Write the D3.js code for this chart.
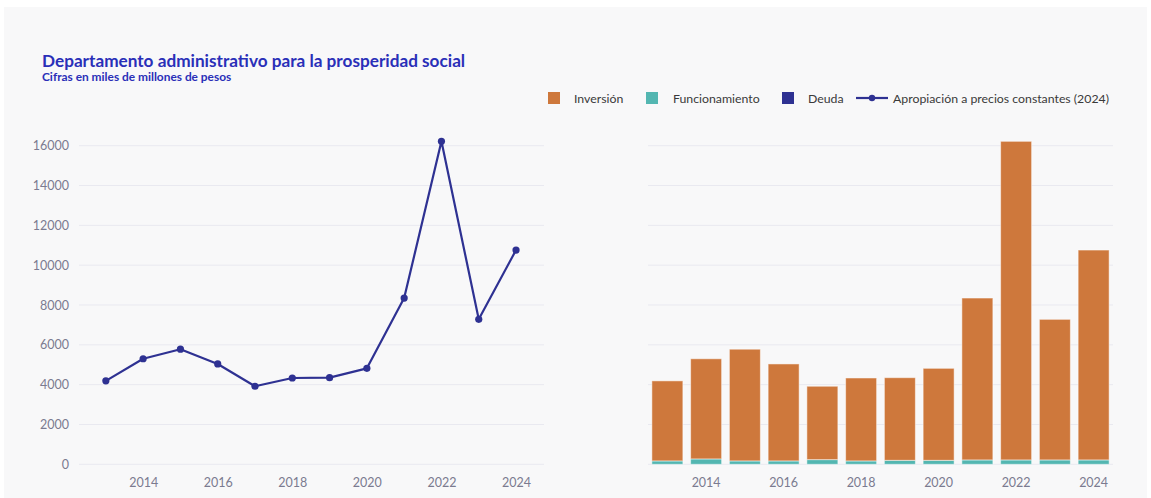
<!DOCTYPE html>
<html>
<head>
<meta charset="utf-8">
<script src="https://cdn.jsdelivr.net/npm/d3@7"></script>
<style>
  html, body { margin: 0; padding: 0; background: #ffffff; }
  svg { display: block; }
  text { font-family: "Source Sans Pro", Lato, "Noto Sans", sans-serif; }
</style>
</head>
<body>
<svg id="chart" width="1151" height="498"></svg>
<script>
// ---- Data ----
const years = [2013, 2014, 2015, 2016, 2017, 2018, 2019, 2020, 2021, 2022, 2023, 2024];
const apropiacion = [4190, 5300, 5780, 5040, 3920, 4335, 4350, 4820, 8350, 16220, 7280, 10760];
const funcionamiento = [170, 270, 170, 170, 235, 170, 200, 200, 220, 220, 220, 220];
const deuda = [0, 0, 0, 0, 0, 0, 0, 0, 0, 0, 0, 0];
const inversion = [4020, 5030, 5610, 4870, 3685, 4165, 4150, 4620, 8130, 16000, 7060, 10540];
const yTicks = [0, 2000, 4000, 6000, 8000, 10000, 12000, 14000, 16000];
const xTicks = [2014, 2016, 2018, 2020, 2022, 2024];
const legendItems = ["Inversión", "Funcionamiento", "Deuda", "Apropiación a precios constantes (2024)"];

const colors = { inv: "#ce783c", fun: "#53b6b1", deu: "#2e3192", line: "#2e3192" };
const FONT = "\"Source Sans Pro\", Lato, \"Noto Sans\", sans-serif";

const svg = d3.select("#chart");

// panel background
svg.append("rect").attr("x", 4).attr("y", 7).attr("width", 1143).attr("height", 491).attr("fill", "#f8f8f9");

// title
svg.append("text").attr("x", 42).attr("y", 67).attr("fill", "#2a2fb8")
  .attr("font-size", 17.2).attr("font-weight", 700).text("Departamento administrativo para la prosperidad social");
svg.append("text").attr("x", 42).attr("y", 81).attr("fill", "#2a2fb8")
  .attr("font-size", 11.9).attr("font-weight", 700).text("Cifras en miles de millones de pesos");

// y scale shared
const y = d3.scaleLinear().domain([0, 16000]).range([464.3, 145.7]);

// ---- Left: line chart ----
const xL = d3.scaleLinear().domain([2012.28, 2024.75]).range([79, 544]);
const gL = svg.append("g");
gL.selectAll("line.grid").data(yTicks).join("line")
  .attr("x1", 79).attr("x2", 544)
  .attr("y1", d => y(d)).attr("y2", d => y(d))
  .attr("stroke", "#e9e9f0").attr("stroke-width", 1);
const yAxisL = d3.axisLeft(y).tickValues(yTicks).tickSize(0).tickPadding(10).tickFormat(d3.format("d"));
gL.append("g").attr("transform", "translate(79,0)").call(yAxisL)
  .call(g => g.select(".domain").remove())
  .call(g => g.selectAll("text").attr("fill", "#7b7b90").attr("font-size", 12.5).attr("font-family", FONT));
const xAxisL = d3.axisBottom(xL).tickValues(xTicks).tickSize(0).tickPadding(14).tickFormat(d3.format("d"));
gL.append("g").attr("transform", "translate(0,464.3)").call(xAxisL)
  .call(g => g.select(".domain").remove())
  .call(g => g.selectAll("text").attr("fill", "#7b7b90").attr("font-size", 12.5).attr("font-family", FONT));

const lineGen = d3.line().x((d, i) => xL(years[i])).y(d => y(d));
gL.append("path").datum(apropiacion).attr("d", lineGen)
  .attr("fill", "none").attr("stroke", colors.line).attr("stroke-width", 2.2).attr("stroke-linejoin", "round");
gL.selectAll("circle").data(apropiacion).join("circle")
  .attr("cx", (d, i) => xL(years[i])).attr("cy", d => y(d)).attr("r", 3.6).attr("fill", colors.line);

// ---- Right: stacked bars ----
const xR = d3.scaleBand().domain(years).range([648, 1113]).paddingInner(0.2).paddingOuter(0.1);
const gR = svg.append("g");
gR.selectAll("line.grid").data(yTicks).join("line")
  .attr("x1", 648).attr("x2", 1113)
  .attr("y1", d => y(d)).attr("y2", d => y(d))
  .attr("stroke", "#e9e9f0").attr("stroke-width", 1);
const xAxisR = d3.axisBottom(xR).tickValues(xTicks).tickSize(0).tickPadding(14).tickFormat(d3.format("d"));
gR.append("g").attr("transform", "translate(0,464.3)").call(xAxisR)
  .call(g => g.select(".domain").remove())
  .call(g => g.selectAll("text").attr("fill", "#7b7b90").attr("font-size", 12.5).attr("font-family", FONT));

const table = years.map((yr, i) => ({ year: yr, fun: funcionamiento[i], deu: deuda[i], inv: inversion[i] }));
const stack = d3.stack().keys(["fun", "deu", "inv"])(table);
gR.selectAll("g.layer").data(stack).join("g")
  .attr("fill", d => colors[d.key])
  .selectAll("rect").data(d => d).join("rect")
  .attr("x", d => xR(d.data.year)).attr("width", xR.bandwidth())
  .attr("y", d => y(d[1])).attr("height", d => Math.max(0, y(d[0]) - y(d[1])))
  .attr("stroke", "rgba(255,255,255,0.5)").attr("stroke-width", 1);

// ---- Legend ----
const lg = svg.append("g").attr("font-size", 12.3).attr("fill", "#3a3a3a");
const sq = [{ x: 548, c: colors.inv, tx: 574, t: legendItems[0] },
            { x: 646, c: colors.fun, tx: 673, t: legendItems[1] },
            { x: 782, c: colors.deu, tx: 808, t: legendItems[2] }];
sq.forEach(s => {
  lg.append("rect").attr("x", s.x).attr("y", 92).attr("width", 12).attr("height", 12).attr("fill", s.c);
  lg.append("text").attr("x", s.tx).attr("y", 103).attr("fill", "#3a3a3a").text(s.t);
});
lg.append("line").attr("x1", 856).attr("x2", 888).attr("y1", 98).attr("y2", 98).attr("stroke", colors.line).attr("stroke-width", 2.2);
lg.append("circle").attr("cx", 872).attr("cy", 98).attr("r", 3.2).attr("fill", colors.line);
lg.append("text").attr("x", 893).attr("y", 103).attr("fill", "#3a3a3a").text(legendItems[3]);
</script>
</body>
</html>
